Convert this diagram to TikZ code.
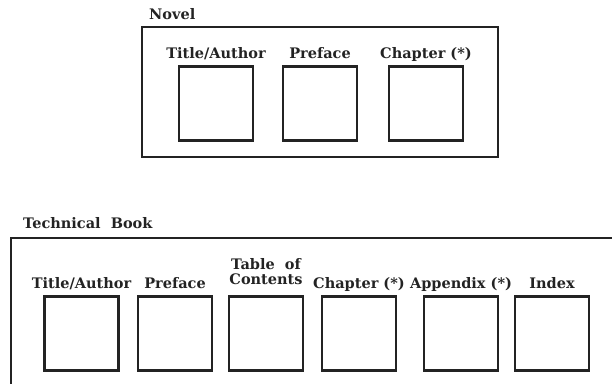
\documentclass[tikz,border=0pt]{standalone}
\usepackage{fontspec}
\setmainfont{DejaVu Serif}
\usetikzlibrary{positioning}
\definecolor{myink}{RGB}{35,35,35}
\tikzstyle{part}=[draw=myink,line width=2.8pt,rectangle,minimum width=74pt,minimum height=74pt,inner sep=0pt]
\tikzstyle{frame}=[draw=myink,line width=2.8pt,rectangle,inner sep=0pt]
\tikzstyle{tag}=[font=\fontsize{14.5}{15}\selectfont\bfseries,text=myink,inner sep=0pt,align=center]
\begin{document}
\begin{tikzpicture}[x=1pt,y=1pt]
\useasboundingbox (0,0) rectangle (612,383);
% Novel
\draw (320,291) node [frame,minimum width=356pt,minimum height=130pt] (novel) {};
\draw (149,363) node [tag,anchor=base west] (novellbl) {Novel};
\draw (216,279.5) node [part] (n1) {};
\draw (320,279.5) node [part] (n2) {};
\draw (426,279.5) node [part] (n3) {};
\node [tag,above=7pt of n1,anchor=base] (n1lbl) {Title/Author};
\node [tag,above=7pt of n2,anchor=base] (n2lbl) {Preface};
\node [tag,above=7pt of n3,anchor=base] (n3lbl) {Chapter (*)};
% Technical Book
\draw (330.5,54) node [frame,minimum width=639pt,minimum height=182pt] (tech) {};
\draw (23,154) node [tag,anchor=base west] (techlbl) {Technical\ \ Book};
\draw (81.5,49.5) node [part] (t1) {};
\draw (175,49.5) node [part] (t2) {};
\draw (266,49.5) node [part] (t3) {};
\draw (359,49.5) node [part] (t4) {};
\draw (461,49.5) node [part] (t5) {};
\draw (552,49.5) node [part] (t6) {};
\node [tag,above=7pt of t1,anchor=base] (t1lbl) {Title/Author};
\node [tag,above=7pt of t2,anchor=base] (t2lbl) {Preface};
\node [tag,above=11pt of t3,anchor=base] (t3lbl) {Table\ \ of\\Contents};
\node [tag,above=7pt of t4,anchor=base] (t4lbl) {Chapter (*)};
\node [tag,above=7pt of t5,anchor=base] (t5lbl) {Appendix (*)};
\node [tag,above=7pt of t6,anchor=base] (t6lbl) {Index};
\end{tikzpicture}
\end{document}
